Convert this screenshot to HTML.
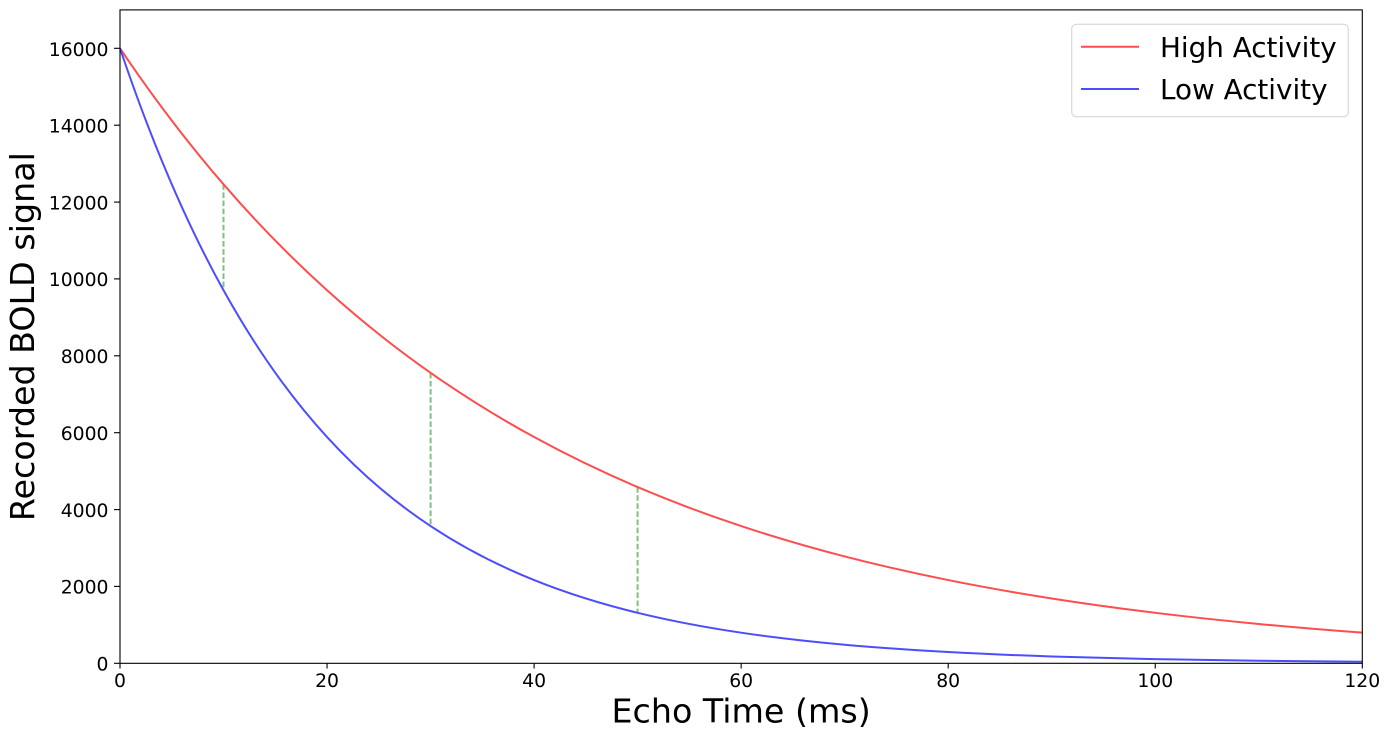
<!DOCTYPE html>
<html>
<head>
<meta charset="utf-8">
<style>
  html, body { margin: 0; padding: 0; background: #ffffff; }
  svg { display: block; }
  text { font-family: "DejaVu Sans", "Liberation Sans", sans-serif; fill: #000; }
</style>
</head>
<body>
<svg width="1389" height="740" viewBox="0 0 1389 740" xmlns="http://www.w3.org/2000/svg">
  <rect x="0" y="0" width="1389" height="740" fill="#ffffff"/>
  <defs>
    <clipPath id="plotclip">
      <rect x="120" y="9.9" width="1242.3" height="653.4"/>
    </clipPath>
  </defs>

  <g clip-path="url(#plotclip)">
    <!-- green dashed connectors -->
    <g stroke="#80c080" stroke-width="2" stroke-dasharray="5.6,2.5" fill="none">
      <line x1="223.5" y1="184.3" x2="223.5" y2="290.3"/>
      <line x1="430.6" y1="372.8" x2="430.6" y2="526.1"/>
      <line x1="637.6" y1="487.1" x2="637.6" y2="612.8"/>
    </g>

    <g transform="translate(120,663.3) scale(10.35250,-0.0384375)">
      <!-- High Activity (red), T2 = 40 -->
      <path vector-effect="non-scaling-stroke" fill="none" stroke="rgb(255,77,77)" stroke-width="2"
        d="M0,16000
           C3.3333,14666.7 6.6667,13499.2 10,12460.8
           C13.3333,11422.4 16.6667,10513.2 20,9704.5
           C23.3333,8895.8 26.6667,8187.7 30,7557.9
           C33.3333,6928.1 36.6667,6376.6 40,5886.1
           C43.3333,5395.6 46.6667,4966.1 50,4584.1
           C53.3333,4202.1 56.6667,3867.6 60,3570.1
           C63.3333,3272.6 66.6667,3012.1 70,2780.4
           C73.3333,2548.7 76.6667,2345.9 80,2165.4
           C83.3333,1985.0 86.6667,1826.9 90,1686.4
           C93.3333,1545.9 96.6667,1422.9 100,1313.4
           C103.3333,1204.0 106.6667,1108.0 110,1022.8
           C113.3333,937.6 116.6667,863.0 120,796.6"/>
      <!-- Low Activity (blue), T2 = 20 -->
      <path vector-effect="non-scaling-stroke" fill="none" stroke="rgb(77,77,255)" stroke-width="2"
        d="M0,16000
           C3.3333,13333.3 6.6667,11322.0 10,9704.5
           C13.3333,8087.1 16.6667,6867.1 20,5886.1
           C23.3333,4905.1 26.6667,4165.1 30,3570.1
           C33.3333,2975.1 36.6667,2526.3 40,2165.4
           C43.3333,1804.5 46.6667,1532.3 50,1313.4
           C53.3333,1094.5 56.6667,929.4 60,796.6
           C63.3333,663.8 66.6667,563.7 70,483.2
           C73.3333,402.7 76.6667,342.0 80,293.1
           C83.3333,244.3 86.6667,207.3 90,177.7
           C93.3333,148.1 96.6667,125.8 100,107.8
           C103.3333,89.8 106.6667,76.3 110,65.4
           C113.3333,54.5 116.6667,46.3 120,39.7"/>
    </g>
  </g>

  <!-- axes frame -->
  <rect x="120" y="9.9" width="1242.3" height="653.4" fill="none" stroke="#000" stroke-width="1.1"/>

  <!-- y ticks -->
  <g stroke="#000" stroke-width="1.1">
    <line x1="114" y1="663.3" x2="120" y2="663.3"/>
    <line x1="114" y1="586.4" x2="120" y2="586.4"/>
    <line x1="114" y1="509.6" x2="120" y2="509.6"/>
    <line x1="114" y1="432.7" x2="120" y2="432.7"/>
    <line x1="114" y1="355.8" x2="120" y2="355.8"/>
    <line x1="114" y1="278.9" x2="120" y2="278.9"/>
    <line x1="114" y1="202.1" x2="120" y2="202.1"/>
    <line x1="114" y1="125.2" x2="120" y2="125.2"/>
    <line x1="114" y1="48.3" x2="120" y2="48.3"/>
  </g>
  <g font-size="18.8" text-anchor="end">
    <text x="108.5" y="670.5">0</text>
    <text x="108.5" y="593.6">2000</text>
    <text x="108.5" y="516.8">4000</text>
    <text x="108.5" y="439.9">6000</text>
    <text x="108.5" y="363.0">8000</text>
    <text x="108.5" y="286.1">10000</text>
    <text x="108.5" y="209.3">12000</text>
    <text x="108.5" y="132.4">14000</text>
    <text x="108.5" y="55.8">16000</text>
  </g>

  <!-- x ticks -->
  <g stroke="#000" stroke-width="1.1">
    <line x1="120" y1="663.3" x2="120" y2="668.5"/>
    <line x1="327.05" y1="663.3" x2="327.05" y2="668.5"/>
    <line x1="534.1" y1="663.3" x2="534.1" y2="668.5"/>
    <line x1="741.15" y1="663.3" x2="741.15" y2="668.5"/>
    <line x1="948.2" y1="663.3" x2="948.2" y2="668.5"/>
    <line x1="1155.25" y1="663.3" x2="1155.25" y2="668.5"/>
    <line x1="1362.3" y1="663.3" x2="1362.3" y2="668.5"/>
  </g>
  <g font-size="18.8" text-anchor="middle">
    <text x="120" y="686.8">0</text>
    <text x="327.05" y="686.8">20</text>
    <text x="534.1" y="686.8">40</text>
    <text x="741.15" y="686.8">60</text>
    <text x="948.2" y="686.8">80</text>
    <text x="1155.25" y="686.8">100</text>
    <text x="1362.3" y="686.8">120</text>
  </g>

  <!-- axis labels -->
  <text x="741.15" y="722.7" font-size="33.3" text-anchor="middle">Echo Time (ms)</text>
  <text transform="translate(34,336.6) rotate(-90)" font-size="33.3" text-anchor="middle">Recorded BOLD signal</text>

  <!-- legend -->
  <rect x="1071.7" y="24.3" width="276.6" height="92.4" rx="4.5" ry="4.5" fill="rgba(255,255,255,0.8)" stroke="#d6d6d6" stroke-width="1.1"/>
  <line x1="1081" y1="46.7" x2="1139" y2="46.7" stroke="rgb(255,77,77)" stroke-width="2"/>
  <line x1="1081" y1="89" x2="1139" y2="89" stroke="rgb(77,77,255)" stroke-width="2"/>
  <text x="1160" y="56.8" font-size="27.8">High Activity</text>
  <text x="1160" y="99.1" font-size="27.8">Low Activity</text>
</svg>
</body>
</html>
